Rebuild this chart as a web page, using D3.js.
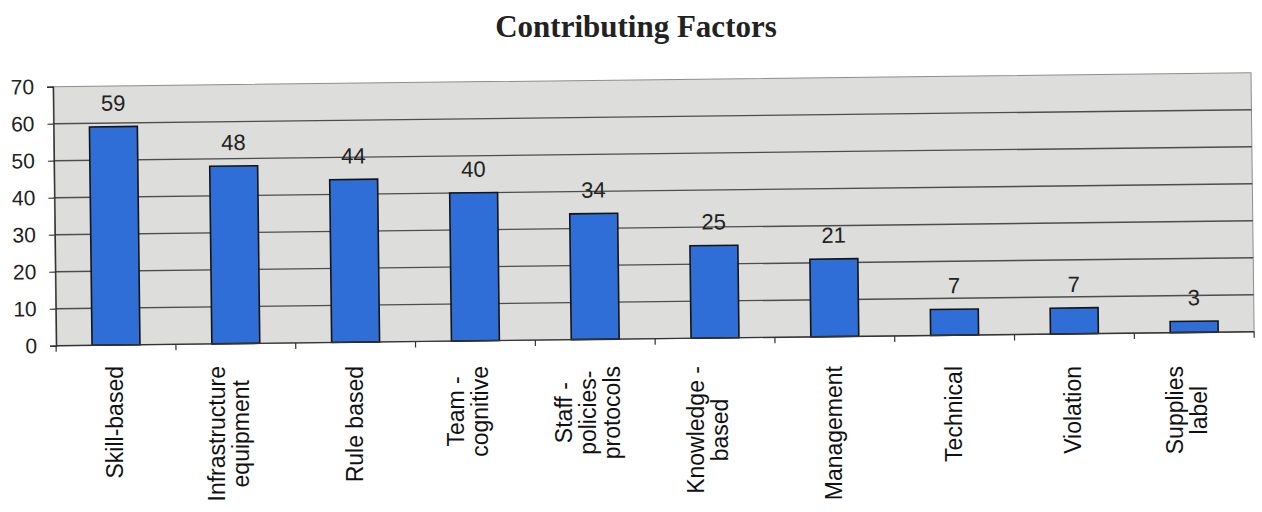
<!DOCTYPE html>
<html>
<head>
<meta charset="utf-8">
<script src="https://cdn.jsdelivr.net/npm/d3@7"></script>
<style>
  html, body { margin: 0; padding: 0; background: #ffffff; }
  svg { display: block; }
  text { font-family: "Liberation Sans", Arial, sans-serif; }
</style>
</head>
<body>
<svg id="chart" width="1262" height="512"></svg>
<script>
// Contributing factors: counts per category
const categories = [
  "Skill-based",
  "Infrastructure\nequipment",
  "Rule based",
  "Team -\ncognitive",
  "Staff -\npolicies-\nprotocols",
  "Knowledge -\nbased",
  "Management",
  "Technical",
  "Violation",
  "Supplies\nlabel"
];
const values = [59, 48, 44, 40, 34, 25, 21, 7, 7, 3];
const yTicks = [0, 10, 20, 30, 40, 50, 60, 70];
const titleText = "Contributing Factors";

const svg = d3.select("#chart");
const W = 1198, H = 259;          // plot area size
const ox = 53, oy = 86.7;          // plot area origin

// Title
svg.append("text")
  .attr("x", 636).attr("y", 37)
  .attr("text-anchor", "middle")
  .style("font-family", "'Liberation Serif', 'Times New Roman', serif")
  .style("font-weight", "bold")
  .style("font-size", "31px")
  .attr("fill", "#222")
  .text(titleText);

const x = d3.scaleBand()
  .domain(d3.range(categories.length))
  .range([0, W])
  .paddingInner(0.6)
  .paddingOuter(0.3);

const y = d3.scaleLinear().domain([0, 70]).range([H, 0]);

// plot group, slightly tilted like the printed page
const g = svg.append("g")
  .attr("transform", `translate(${ox},${oy}) matrix(1,-0.0117,0.012,1,0,0)`);

// background panel
g.append("rect")
  .attr("x", 0).attr("y", 0).attr("width", W).attr("height", H)
  .attr("fill", "#dddedc")
  .attr("stroke", "#8d8d8d")
  .attr("stroke-width", 1);

// horizontal gridlines
g.append("g")
  .selectAll("line")
  .data(yTicks.filter(t => t > 0 && t < 70))
  .join("line")
  .attr("x1", 0).attr("x2", W)
  .attr("y1", d => y(d)).attr("y2", d => y(d))
  .attr("stroke", "#4d4d4d")
  .attr("stroke-width", 1.4);

// y axis
const yAxis = g.append("g")
  .call(d3.axisLeft(y).tickValues(yTicks).tickSize(6).tickPadding(13));
yAxis.select(".domain").attr("stroke", "#333").attr("stroke-width", 1.4);
yAxis.selectAll(".tick line").attr("stroke", "#333").attr("stroke-width", 1.2);
yAxis.selectAll(".tick text")
  .attr("fill", "#222")
  .style("font-size", "21px");

// bars
g.append("g")
  .selectAll("rect")
  .data(values)
  .join("rect")
  .attr("x", (d, i) => x(i))
  .attr("y", d => y(d))
  .attr("width", x.bandwidth())
  .attr("height", d => y(0) - y(d))
  .attr("fill", "#2f6ed6")
  .attr("stroke", "#141414")
  .attr("stroke-width", 1.6);

// value labels
g.append("g")
  .selectAll("text")
  .data(values)
  .join("text")
  .attr("x", (d, i) => x(i) + x.bandwidth() / 2)
  .attr("y", d => y(d) - 16)
  .attr("text-anchor", "middle")
  .attr("fill", "#222")
  .style("font-size", "22px")
  .text(d => d);

// x axis line with ticks at category boundaries
g.append("line")
  .attr("x1", 0).attr("x2", W)
  .attr("y1", H).attr("y2", H)
  .attr("stroke", "#333").attr("stroke-width", 1.4);
const step = x.step();
const edge0 = x(0) - x.paddingOuter() * step;
g.append("g")
  .selectAll("line")
  .data(d3.range(categories.length + 1))
  .join("line")
  .attr("x1", i => edge0 + step * i)
  .attr("x2", i => edge0 + step * i)
  .attr("y1", H).attr("y2", H + 6)
  .attr("stroke", "#333").attr("stroke-width", 1.2);

// category labels, rotated, lines centred on each other
const labelTop = 366;
const catG = svg.append("g");
categories.forEach((c, i) => {
  const lines = c.split("\n");
  const cx = ox + x(i) + x.bandwidth() / 2 + 2;
  const lh = 24;
  const grp = catG.append("g");
  const texts = lines.map(ln => grp.append("text")
    .attr("fill", "#111")
    .style("font-size", "23px")
    .attr("text-anchor", "middle")
    .text(ln));
  const lens = texts.map(t => t.node().getComputedTextLength());
  const maxLen = d3.max(lens);
  const cy = labelTop + maxLen / 2;
  const shift = lines.length > 1 ? -6 : 0;
  texts.forEach((t, k) => {
    const bx = cx + (k - (lines.length - 1) / 2) * lh + 8 + shift;
    t.attr("transform", `translate(${bx},${cy}) rotate(-90)`);
  });
});
</script>
</body>
</html>
